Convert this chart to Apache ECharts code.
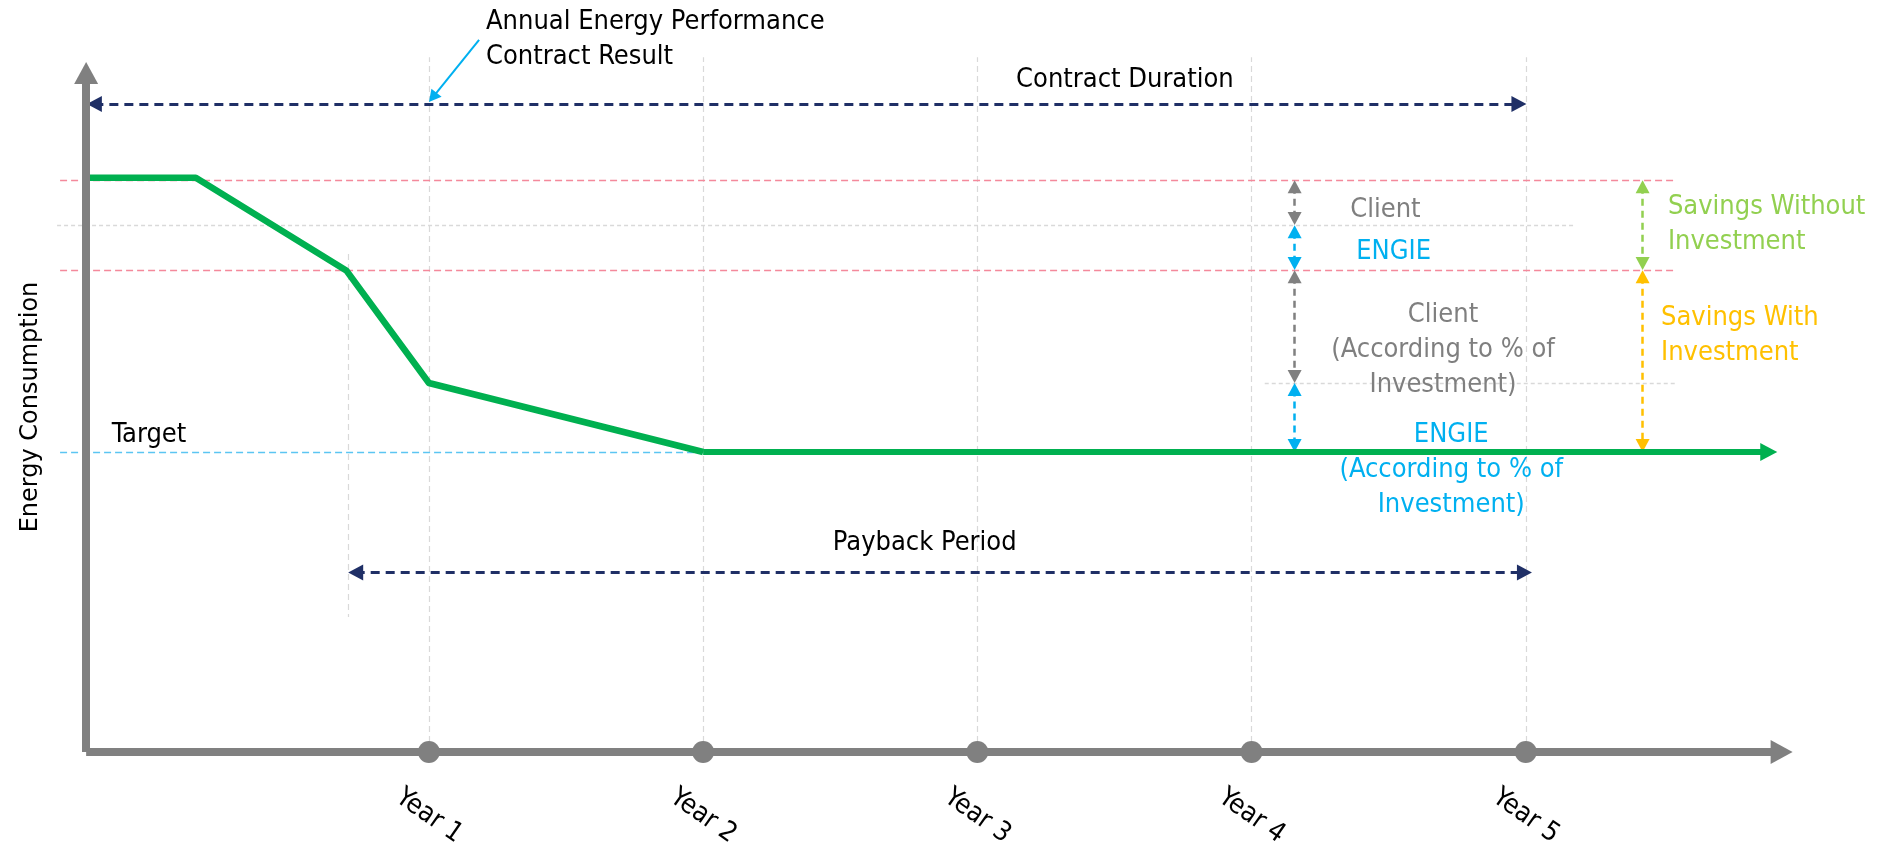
<!DOCTYPE html>
<html>
<head>
<meta charset="utf-8">
<script src="https://cdn.jsdelivr.net/npm/echarts@6/dist/echarts.min.js"></script>
<style>html,body{margin:0;padding:0;background:#fff}#c{width:1883px;height:857px}</style>
</head>
<body>
<div id="c"></div>
<script>
// ---------- data (x in years, y in consumption units) ----------
const yearValues = [1, 2, 3, 4, 5];
const yearLabels = ['Year 1', 'Year 2', 'Year 3', 'Year 4', 'Year 5'];
const consumptionX = [-0.25, 0.15, 0.70, 1, 2];
const consumptionY = [95.7, 95.7, 80.2, 61.5, 50];
const consumptionEnd = [5.886, 50];
const baselineLevel = 95.3;
const noInvestLevel = 80.3;
const split1Level = 87.75;
const split2Level = 61.5;
const targetLevel = 50;
const contractRange = [-0.22, 4.975];
const contractLevel = 108;
const paybackRange = [0.733, 4.995];
const paybackLevel = 29.9;
const paybackStart = [0.705, 83, 22.5];
const gridTop = 115.8;
const annualArrow = [[1.183, 118.7], [1.014, 109.1]];
const leftArrowX = 4.157;
const leftArrows = [[94.2, 88.9], [86.7, 81.4], [79.2, 62.6], [60.4, 51.1]];
const rightArrowX = 5.426;
const rightArrows = [[94.2, 81.4], [79.2, 51.1]];
const axisEnds = {x: 5.933, y: 113.17, origin: -0.25};

// ---------- styles ----------
const FONT = "'Liberation Sans Narrow', 'DejaVu Sans Condensed', 'Open Sans', sans-serif";
const GREEN = '#00B050', GREY = '#808080', NAVY = '#1F2F66', BLUE = '#00B0F0',
      LGREEN = '#92D050', YELLOW = '#FFC000', PINK = '#F4899B', LGREY = '#D9D9D9', TBLUE = '#5BC5F2';

function seg(p1, p2, style, s1, s2, size) {
  return [
    {coord: p1, symbol: s1 || 'none', symbolSize: size || 12, lineStyle: style},
    {coord: p2, symbol: s2 || 'none', symbolSize: size || 12}
  ];
}
function markSeries(name, z, items) {
  return {
    type: 'line', name: name, data: [], silent: true,
    markLine: {silent: true, animation: false, z: z, symbol: ['none', 'none'],
      label: {show: false}, emphasis: {disabled: true}, data: items}
  };
}

const dash = (c, w, t) => ({color: c, width: w, type: t});

// gridlines
const gridItems = yearValues.map(v => seg([v, 0], [v, gridTop], dash(LGREY, 1.2, [6, 4])));
gridItems.push(seg([paybackStart[0], paybackStart[1]], [paybackStart[0], paybackStart[2]], dash(LGREY, 1.2, [6, 4])));

// level lines
const levelItems = [
  seg([-0.345, baselineLevel], [5.54, baselineLevel], dash(PINK, 1.4, [7, 4])),
  seg([-0.345, noInvestLevel], [5.54, noInvestLevel], dash(PINK, 1.4, [7, 4])),
  seg([-0.356, split1Level], [5.175, split1Level], dash(LGREY, 1.4, [4, 3])),
  seg([4.048, split2Level], [5.547, split2Level], dash(LGREY, 1.4, [4, 3])),
  seg([-0.345, targetLevel], [2.0, targetLevel], dash(TBLUE, 1.4, [7, 4]))
];

// dimension arrows
const arrowItems = [
  seg([contractRange[0], contractLevel], [contractRange[1], contractLevel], dash(NAVY, 3, [9, 6]), 'triangle', 'triangle', [16, 15]),
  seg([paybackRange[0], paybackLevel], [paybackRange[1], paybackLevel], dash(NAVY, 3, [9, 6]), 'triangle', 'triangle', [16, 15]),
  seg(annualArrow[0], annualArrow[1], dash(BLUE, 2, 'solid'), 'none', 'triangle', [13, 12])
];
const leftColors = [GREY, BLUE, GREY, BLUE];
leftArrows.forEach((a, i) => arrowItems.push(
  seg([leftArrowX, a[0]], [leftArrowX, a[1]], dash(leftColors[i], 2.5, [7, 5]), 'triangle', 'triangle', [14, 13])));
const rightColors = [LGREEN, YELLOW];
rightArrows.forEach((a, i) => arrowItems.push(
  seg([rightArrowX, a[0]], [rightArrowX, a[1]], dash(rightColors[i], 2.5, [7, 5]), 'triangle', 'triangle', [14, 13])));

// axes drawn as arrows
const axisItems = [
  seg([axisEnds.origin, 0], [axisEnds.origin, axisEnds.y], dash(GREY, 8, 'solid'), 'none', 'triangle', [24, 22]),
  seg([axisEnds.origin, 0], [axisEnds.x, 0], dash(GREY, 8, 'solid'), 'none', 'triangle', [24, 22])
];

const greenEndItems = [
  seg([consumptionX[consumptionX.length - 1], targetLevel], consumptionEnd, dash(GREEN, 6, 'solid'), 'none', 'triangle', [18, 17])
];

// annotations (text)
const notes = [
  {p: [1.21, 118.6], t: 'Annual Energy Performance\nContract Result', c: '#000', a: 'left'},
  {p: [3.54, 112], t: 'Contract Duration', c: '#000', a: 'center'},
  {p: [-0.155, 52.8], t: 'Target', c: '#000', a: 'left'},
  {p: [2.81, 34.7], t: 'Payback Period', c: '#000', a: 'center'},
  {p: [4.49, 90.3], t: 'Client', c: '#7F7F7F', a: 'center'},
  {p: [4.52, 83.2], t: 'ENGIE', c: BLUE, a: 'center'},
  {p: [4.70, 67.0], t: 'Client\n(According to % of\nInvestment)', c: '#7F7F7F', a: 'center'},
  {p: [4.73, 47.0], t: 'ENGIE\n(According to % of\nInvestment)', c: BLUE, a: 'center'},
  {p: [5.52, 87.9], t: 'Savings Without\nInvestment', c: LGREEN, a: 'left'},
  {p: [5.495, 69.4], t: 'Savings With\nInvestment', c: YELLOW, a: 'left'}
];

const chart = echarts.init(document.getElementById('c'), null, {renderer: 'canvas'});
const option = {
  backgroundColor: '#ffffff',
  animation: false,
  grid: {left: 45, right: 83, top: 2, bottom: 45, outerBoundsMode: 'none', containLabel: false},
  xAxis: {
    type: 'value', min: -0.4, max: 6.0,
    axisLine: {show: false, onZero: false}, axisTick: {show: false}, splitLine: {show: false},
    axisLabel: {
      customValues: yearValues,
      formatter: v => { const i = yearValues.indexOf(v); return i >= 0 ? yearLabels[i] : ''; },
      rotate: -35, align: 'center', verticalAlign: 'middle', margin: 4,
      fontSize: 27, fontFamily: FONT, color: '#000'
    }
  },
  yAxis: {
    type: 'value', min: -10, max: 125,
    axisLine: {show: false, onZero: false}, axisTick: {show: false}, axisLabel: {show: false}, splitLine: {show: false},
    name: 'Energy Consumption', nameLocation: 'middle', nameRotate: 90, nameGap: 2,
    nameTextStyle: {fontFamily: "'DejaVu Sans', sans-serif", fontSize: 24, color: '#000'}
  },
  series: [
    markSeries('grid', 1, gridItems),
    markSeries('levels', 2, levelItems),
    markSeries('axes', 11, axisItems),
    markSeries('arrows', 8, arrowItems),
    markSeries('greenEnd', 10, greenEndItems),
    {
      type: 'line', name: 'Consumption', z: 10, symbol: 'none', silent: true,
      data: consumptionX.map((x, i) => [x, consumptionY[i]]),
      lineStyle: {color: GREEN, width: 6.5, join: 'round'}
    },
    {
      type: 'scatter', name: 'years', z: 12, silent: true,
      data: yearValues.map(v => [v, 0]), symbolSize: 22, itemStyle: {color: GREY, opacity: 1}
    },
    {
      type: 'scatter', name: 'notes', z: 20, silent: true, clip: false, symbolSize: 1,
      itemStyle: {color: '#ffffff', opacity: 1},
      data: notes.map(n => ({
        value: n.p,
        label: {show: true, position: [0, 0], formatter: n.t, color: n.c, align: n.a,
          verticalAlign: 'middle', fontSize: 27, lineHeight: 35, fontFamily: FONT,
          textBorderWidth: 0, opacity: 1}
      }))
    }
  ]
};
chart.setOption(option);
</script>
</body>
</html>
